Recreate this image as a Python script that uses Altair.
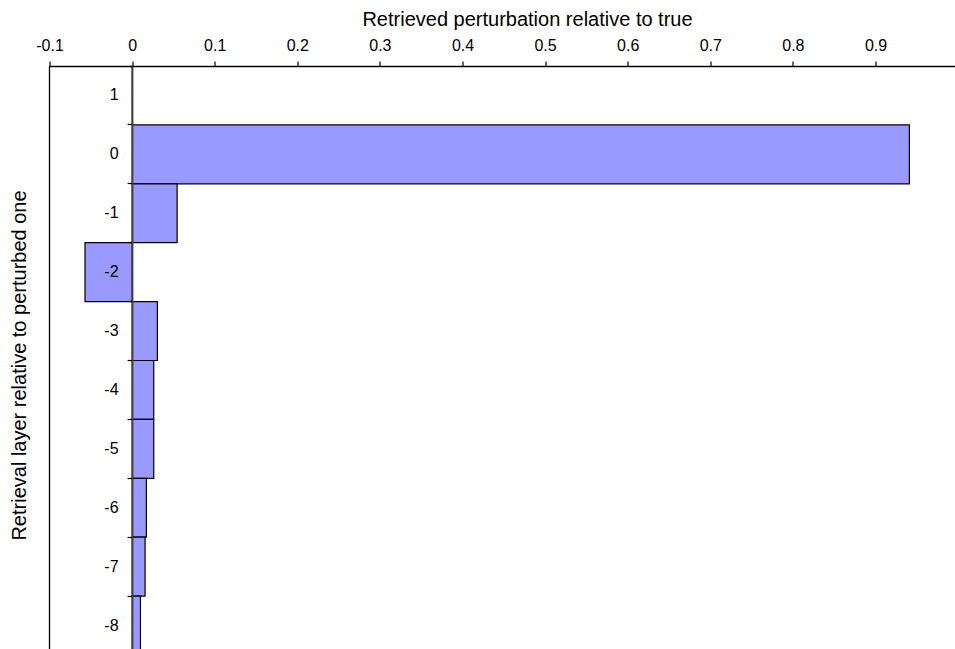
import altair as alt
import pandas as pd

# Retrieval layer offsets (relative to the perturbed layer) and retrieved perturbation
layers = ["1", "0", "-1", "-2", "-3", "-4", "-5", "-6", "-7", "-8"]
perturbation = [0.0, 0.941, 0.0545, -0.057, 0.0306, 0.0262, 0.0262, 0.0173, 0.0157, 0.0101]
x_ticks = [-0.1, 0, 0.1, 0.2, 0.3, 0.4, 0.5, 0.6, 0.7, 0.8, 0.9]

df = pd.DataFrame({"layer": layers, "value": perturbation})

PX_PER_UNIT = 826.0
X_MIN, X_MAX = -0.1, 1.0
BAND = 58.9
LEFT, TOP = 49.5, 66
W = 955 - LEFT          # visible plot width
H = 649 - TOP           # visible plot height
FONT = "Liberation Sans"

# scales run a little past the visible view so the frame continues off the edge
x_scale = alt.Scale(domain=[X_MIN, X_MAX], nice=False, zero=False,
                    range=[0, (X_MAX - X_MIN) * PX_PER_UNIT])
y_scale = alt.Scale(domain=layers, paddingInner=0, paddingOuter=0,
                    range=[0, BAND * len(layers)])

bars = alt.Chart(df).mark_bar(
    color="#9999ff", stroke="black", strokeWidth=1.2
).encode(
    x=alt.X(
        "value:Q",
        scale=x_scale,
        axis=alt.Axis(
            orient="top",
            title="Retrieved perturbation relative to true",
            values=x_ticks,
            labelExpr="toString(datum.value)",
            grid=False,
            domainColor="black",
            domainWidth=1.6,
            tickColor="black",
            tickSize=5,
            tickWidth=1.2,
            labelFont=FONT,
            labelFontSize=16,
            labelColor="black",
            labelBaseline="alphabetic",
            labelPadding=11,
            labelFlush=False,
            titleFont=FONT,
            titleFontSize=20,
            titleFontWeight="normal",
            titleColor="black",
            titleX=477.5,
            titleY=-41,
            titleAlign="center",
            titleBaseline="alphabetic",
        ),
    ),
    x2=alt.datum(0),
    y=alt.Y(
        "layer:N",
        sort=layers,
        scale=y_scale,
        axis=alt.Axis(
            orient="left",
            title="Retrieval layer relative to perturbed one",
            offset=-(0 - X_MIN) * PX_PER_UNIT,
            bandPosition=0,
            zindex=1,
            domainColor="#404040",
            domainWidth=1.6,
            tickColor="black",
            tickSize=5,
            tickWidth=1.2,
            labelFont=FONT,
            labelFontSize=16,
            labelColor="black",
            labelAlign="right",
            labelPadding=9,
            labelAngle=0,
            titleFont=FONT,
            titleFontSize=20,
            titleFontWeight="normal",
            titleColor="black",
            titleAngle=270,
            titleX=-107,
            titleY=299,
            titleAlign="center",
            titleBaseline="alphabetic",
        ),
    ),
)

# left edge of the plot frame (a single rule)
frame_left = alt.Chart(pd.DataFrame({"edge": [X_MIN]})).mark_rule(
    color="black", strokeWidth=1.3
).encode(
    x=alt.value(0), y=alt.value(0), y2=alt.value(H)
)

chart = alt.layer(bars, frame_left).properties(
    width=W,
    height=H,
    autosize=alt.AutoSizeParams(type="none"),
    padding={"left": LEFT, "top": TOP, "right": 0, "bottom": 0},
    background="white",
).configure_view(
    stroke=None
)

chart.save("out.html", embed_options={"renderer": "svg", "actions": False})
